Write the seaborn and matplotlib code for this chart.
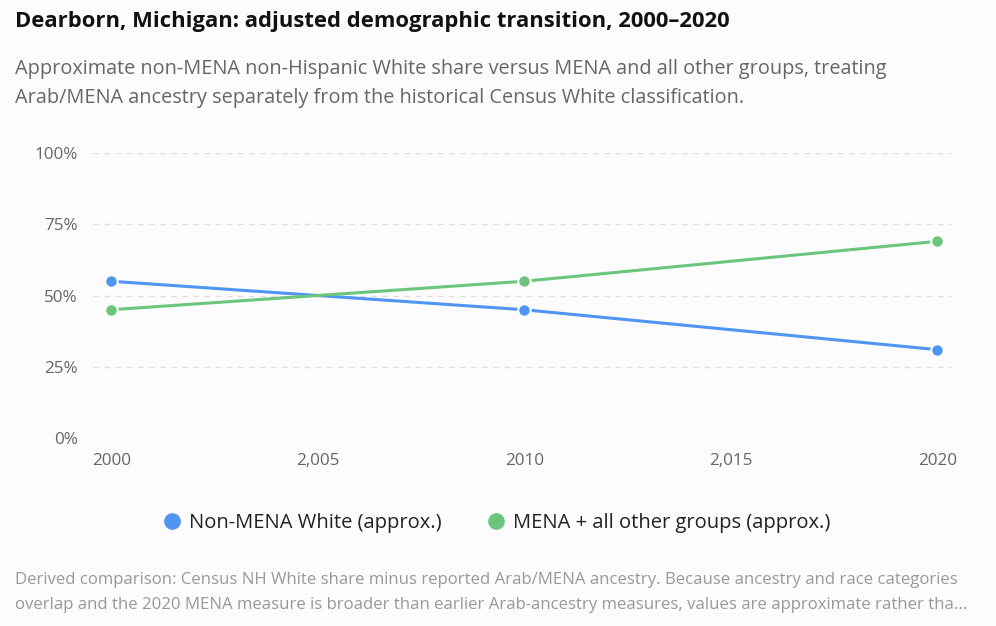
import matplotlib
matplotlib.use("Agg")
import matplotlib.pyplot as plt
import seaborn as sns
import pandas as pd
from matplotlib.ticker import FixedLocator, FixedFormatter

# ---- data ----
years = [2000, 2010, 2020]
non_mena_white = [55, 45, 31]
mena_other = [45, 55, 69]
series_names = ["Non-MENA White (approx.)", "MENA + all other groups (approx.)"]
x_ticks = [2000, 2005, 2010, 2015, 2020]
x_tick_labels = ["2000", "2,005", "2010", "2,015", "2020"]
y_ticks = [0, 25, 50, 75, 100]
y_tick_labels = ["0%", "25%", "50%", "75%", "100%"]

title = "Dearborn, Michigan: adjusted demographic transition, 2000\u20132020"
subtitle_lines = ["Approximate non-MENA non-Hispanic White share versus MENA and all other groups, treating",
                  "Arab/MENA ancestry separately from the historical Census White classification."]
footnote_lines = ["Derived comparison: Census NH White share minus reported Arab/MENA ancestry. Because ancestry and race categories",
                  "overlap and the 2020 MENA measure is broader than earlier Arab-ancestry measures, values are approximate rather tha..."]

df = pd.DataFrame({
    "year": years * 2,
    "share": non_mena_white + mena_other,
    "series": [series_names[0]] * len(years) + [series_names[1]] * len(years),
})

sns.set_theme(style="white")
plt.rcParams["font.family"] = ["Open Sans", "DejaVu Sans"]

bg = "#fcfcfc"
colors = {series_names[0]: "#4f95f3", series_names[1]: "#6cc57d"}

fig = plt.figure(figsize=(9.96, 6.26), dpi=100, facecolor=bg)
ax = fig.add_axes([93 / 996, 1 - 438 / 626, (952 - 93) / 996, (438 - 153) / 626])
ax.set_facecolor(bg)

sns.lineplot(data=df, x="year", y="share", hue="series", palette=colors,
             marker="o", markersize=9, markeredgecolor=bg, markeredgewidth=1.5,
             linewidth=2.2, ax=ax, legend=False)

ax.set_xlim(1999.56, 2020.36)
ax.set_ylim(0, 100)
for s in ax.spines.values():
    s.set_visible(False)
ax.set_xlabel("")
ax.set_ylabel("")
ax.xaxis.set_major_locator(FixedLocator(x_ticks))
ax.xaxis.set_major_formatter(FixedFormatter(x_tick_labels))
ax.yaxis.set_major_locator(FixedLocator(y_ticks))
ax.yaxis.set_major_formatter(FixedFormatter(y_tick_labels))
ax.tick_params(axis="both", length=0, labelsize=12.3, colors="#666666")
ax.tick_params(axis="x", pad=11)
ax.tick_params(axis="y", pad=11)
ax.grid(axis="y", color="#dedede", linestyle=(0, (4, 4)), linewidth=1)
for line in ax.lines:
    line.set_clip_on(False)

fig.text(15 / 996, 1 - 21 / 626, title, fontsize=15.8, fontweight="bold",
         color="#111111", va="center", ha="left")
for i, ln in enumerate(subtitle_lines):
    fig.text(15 / 996, 1 - (69 + 29 * i) / 626, ln, fontsize=14.3, color="#666666",
             va="center", ha="left")

handles = [plt.Line2D([], [], marker="o", linestyle="", markersize=11,
                      markerfacecolor=colors[n], markeredgecolor=colors[n]) for n in series_names]
fig.legend(handles, series_names, loc="center", bbox_to_anchor=(497 / 996, 1 - 523 / 626),
           ncol=2, frameon=False, fontsize=14.5, handletextpad=0.45, columnspacing=2.3,
           handlelength=0.8, labelcolor="#222222")

for i, ln in enumerate(footnote_lines):
    fig.text(15 / 996, 1 - (580 + 25 * i) / 626, ln, fontsize=12.1, color="#999999",
             va="center", ha="left")

fig.savefig("out.png", dpi=100, facecolor=bg)
